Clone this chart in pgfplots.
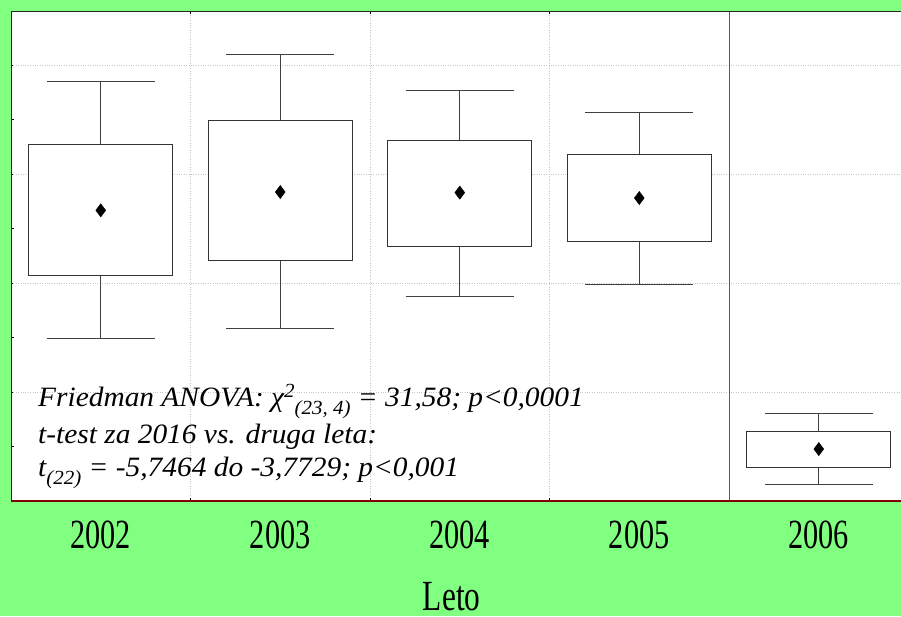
\documentclass[border=0pt]{standalone}
\usepackage{pgfplots}
\pgfplotsset{compat=1.18}
\usepgfplotslibrary{statistics}
\usepackage{fontspec}
\setmainfont{Liberation Serif}
\newfontfamily\condfont[FakeStretch=0.73]{Liberation Serif}
\newfontfamily\annfam[FakeStretch=1.05]{Liberation Serif}
\definecolor{bggreen}{RGB}{128,255,128}
\definecolor{axred}{RGB}{128,0,0}
\pgfplotsset{
  mybox/.style={
    solid, black,
    boxplot/draw direction=y,
    boxplot/box extend=0.8,
    boxplot/whisker extend=0.6,
    boxplot/every box/.style={draw=black!80, fill=white, line width=1pt},
    boxplot/every whisker/.style={draw=black!75, line width=1pt},
    boxplot/every median/.style={draw=none},
  }
}
\newcommand\annfont{\annfam\fontsize{28}{30}\selectfont\itshape}
\newcommand\smallann{\fontsize{20}{20}\selectfont}
\begin{document}
\begin{tikzpicture}
\fill[bggreen] (-11pt,-115pt) rectangle (890pt,501pt);
\begin{axis}[
  at={(0pt,0pt)}, anchor=south west,
  scale only axis, width=890pt, height=490pt,
  xmin=-0.5, xmax=4.458, ymin=0, ymax=9,
  axis background/.style={fill=white},
  axis line style={draw=none},
  clip=false,
  xtick={0.5,1.5,2.5}, xticklabels={},
  xmajorgrids,
  extra x ticks={0,1,2,3,4},
  extra x tick labels={2002,2003,2004,2005,2006},
  extra x tick style={major tick length=0pt, grid=none,
    xticklabel style={anchor=base, yshift=-47.3pt, font=\fontsize{41.5}{45}\selectfont\condfont}},
  ytick={0,1,2,3,4,5,6,7,8,9}, yticklabels={},
  ytick pos=left,
  tick style={black, line width=0.8pt},
  major tick length=3pt,
  extra y ticks={2,4,6,8}, extra y tick labels={},
  extra y tick style={grid=major, major tick length=0pt},
  major grid style={dash pattern=on 0.8pt off 1.6pt, black!22, line width=0.7pt},
]
\addplot[mybox, boxplot prepared={draw position=0, lower whisker=2.985, lower quartile=4.134, median=5.339, upper quartile=6.550, upper whisker=7.706}] coordinates {};
\addplot[mybox, boxplot prepared={draw position=1, lower whisker=3.161, lower quartile=4.409, median=5.675, upper quartile=6.985, upper whisker=8.202}] coordinates {};
\addplot[mybox, boxplot prepared={draw position=2, lower whisker=3.749, lower quartile=4.679, median=5.664, upper quartile=6.618, upper whisker=7.541}] coordinates {};
\addplot[mybox, boxplot prepared={draw position=3, lower whisker=3.976, lower quartile=4.771, median=5.565, upper quartile=6.367, upper whisker=7.143}] coordinates {};
\addplot[mybox, boxplot prepared={draw position=4, lower whisker=0.294, lower quartile=0.618, median=0.954, upper quartile=1.284, upper whisker=1.615}] coordinates {};
\addplot[only marks, mark=diamond*, mark size=6.6pt, black] coordinates {(0,5.339) (1,5.675) (2,5.664) (3,5.565) (4,0.954)};
\draw[black!65, line width=1pt] (axis cs:3.5,0) -- (axis cs:3.5,9);
\draw[black!85, line width=1pt] (rel axis cs:0,0) -- (rel axis cs:0,1) -- (rel axis cs:1,1);
\draw[axred, line width=1.3pt] (rel axis cs:0,0) -- (rel axis cs:1,0);
\end{axis}
\node[anchor=base west, inner sep=0pt] at (27pt,94.3pt) {\annfont Friedman ANOVA: χ\raisebox{9pt}{\smallann 2}\raisebox{-8pt}{\smallann (23, 4)} = 31,58; p<0,0001};
\node[anchor=base west, inner sep=0pt] at (27pt,58pt) {\annfont t-test za 2016 vs. druga leta:};
\node[anchor=base west, inner sep=0pt] at (27pt,24.3pt) {\annfont t\raisebox{-8pt}{\smallann (22)} = -5,7464 do -3,7729; p<0,001};
\node[anchor=base, inner sep=0pt, text depth=0pt] at (440.7pt,-109.5pt) {\fontsize{43}{46}\selectfont\condfont Leto};
\pgfresetboundingbox
\useasboundingbox (-11pt,-115pt) rectangle (890pt,501pt);
\end{tikzpicture}
\end{document}
